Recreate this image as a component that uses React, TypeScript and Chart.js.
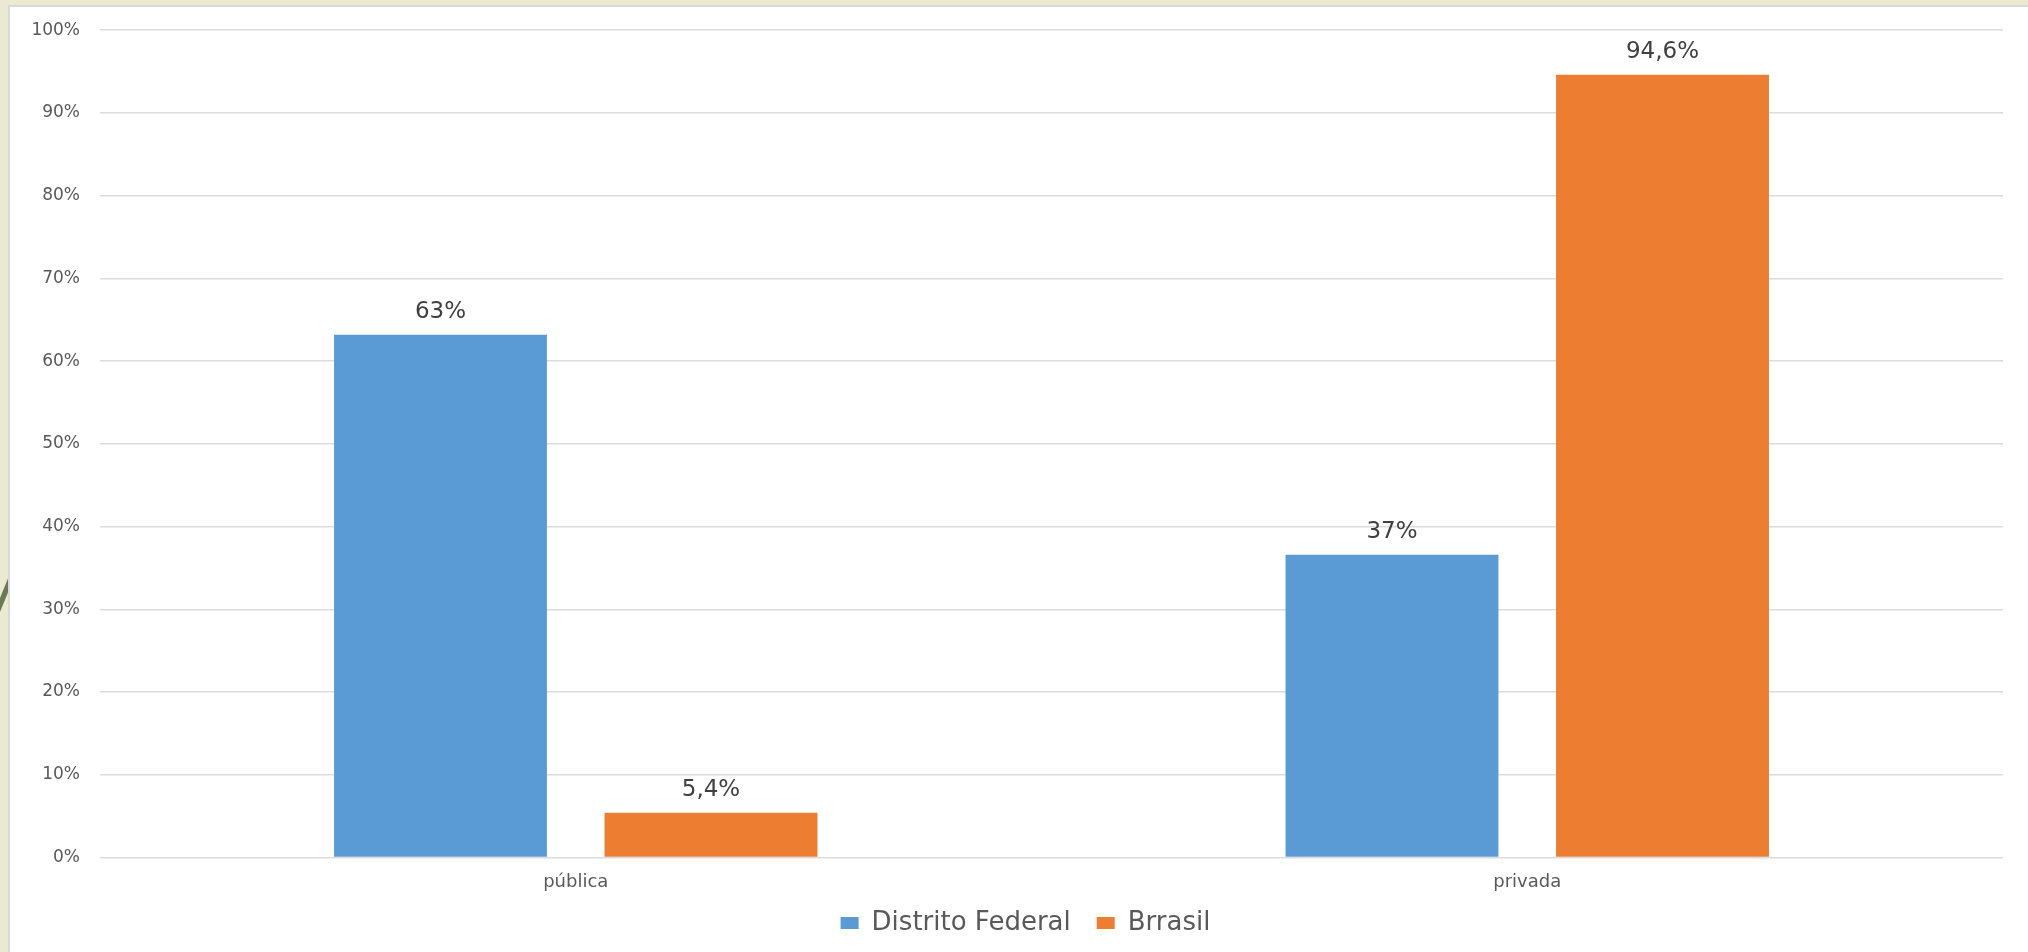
import React, { useEffect, useRef } from "react";
import { Chart, registerables } from "chart.js";

Chart.register(...registerables);

const categories = ["pública", "privada"];
const seriesNames = ["Distrito Federal", "Brrasil"];
const distritoFederal = [63.2, 36.6];
const brasil = [5.4, 94.6];
const distritoLabels = ["63%", "37%"];
const brasilLabels = ["5,4%", "94,6%"];
const yTicks = [0, 10, 20, 30, 40, 50, 60, 70, 80, 90, 100];

const FONT = "'DejaVu Sans', 'Open Sans', sans-serif";
const LEGEND_PAD = 26;
const LEGEND_FONT = 26;

const dataLabelPlugin = {
  id: "dataLabels",
  afterDatasetsDraw(chart: any) {
    const ctx = chart.ctx;
    ctx.save();
    ctx.font = `23px ${FONT}`;
    ctx.fillStyle = "#404040";
    ctx.textAlign = "center";
    ctx.textBaseline = "middle";
    chart.data.datasets.forEach((ds: any, di: number) => {
      const meta = chart.getDatasetMeta(di);
      meta.data.forEach((bar: any, i: number) => {
        const txt = ds.valueLabels[i];
        ctx.fillText(txt, bar.x, bar.y - 23);
      });
    });
    ctx.restore();
  },
};

const legendShiftPlugin = {
  id: "legendShift",
  afterLayout(chart: any) {
    const l = chart.legend;
    if (l) {
      l.left += 24;
      l.right += 24;
      l.top = 923 - LEGEND_PAD - LEGEND_FONT / 2;
      l.bottom = l.top + l.height;
    }
  },
};

export default function App() {
  const ref = useRef<HTMLCanvasElement>(null);

  useEffect(() => {
    if (!ref.current) return;
    const chart = new Chart(ref.current, {
      type: "bar",
      data: {
        labels: categories,
        datasets: [
          {
            label: seriesNames[0],
            data: distritoFederal,
            backgroundColor: "#5B9BD5",
            categoryPercentage: 0.5686,
            barPercentage: 0.787,
            valueLabels: distritoLabels,
          } as any,
          {
            label: seriesNames[1],
            data: brasil,
            backgroundColor: "#ED7D31",
            categoryPercentage: 0.5686,
            barPercentage: 0.787,
            valueLabels: brasilLabels,
          } as any,
        ],
      },
      options: {
        responsive: false,
        animation: false,
        events: [],
        layout: { padding: { left: 0, right: 25, top: 27, bottom: 1.5 } },
        plugins: {
          tooltip: { enabled: false },
          legend: {
            position: "bottom",
            labels: {
              boxWidth: 18,
              boxHeight: 12,
              padding: LEGEND_PAD,
              color: "#595959",
              font: { family: FONT, size: LEGEND_FONT },
            },
          },
        },
        scales: {
          x: {
            afterFit: (scale: any) => {
              scale.height = 36;
            },
            grid: { display: false, drawTicks: false },
            border: { display: false },
            ticks: {
              color: "#595959",
              padding: 14,
              font: { family: FONT, size: 18 },
            },
          },
          y: {
            min: 0,
            max: 100,
            afterFit: (scale: any) => {
              scale.width = 100;
            },
            afterBuildTicks: (scale: any) => {
              scale.ticks = yTicks.map((v) => ({ value: v }));
            },
            grid: { color: "#DCDCDC", lineWidth: 1.5, drawTicks: false },
            border: { display: false },
            ticks: {
              color: "#595959",
              padding: 20,
              font: { family: FONT, size: 17 },
              callback: (v: any) => `${v}%`,
            },
          },
        },
      },
      plugins: [dataLabelPlugin, legendShiftPlugin],
    });
    return () => chart.destroy();
  }, []);

  return (
    <div
      style={{
        position: "fixed",
        left: 0,
        top: 0,
        width: 2028,
        height: 952,
        background: "#ECE9D2",
        overflow: "hidden",
      }}
    >
      <svg
        width={10}
        height={952}
        style={{ position: "absolute", left: 0, top: 0 }}
      >
        <polygon points="9,576 9,590 0,612 0,598" fill="#6B7A52" />
      </svg>
      <div
        style={{
          position: "absolute",
          left: 8,
          top: 5,
          width: 2028,
          height: 960,
          background: "#FFFFFF",
          borderTop: "2px solid #D9D9D9",
          borderLeft: "2px solid #D9D9D9",
        }}
      />
      <canvas
        ref={ref}
        width={2028}
        height={957}
        style={{ position: "absolute", left: 0, top: 0 }}
      />
    </div>
  );
}
